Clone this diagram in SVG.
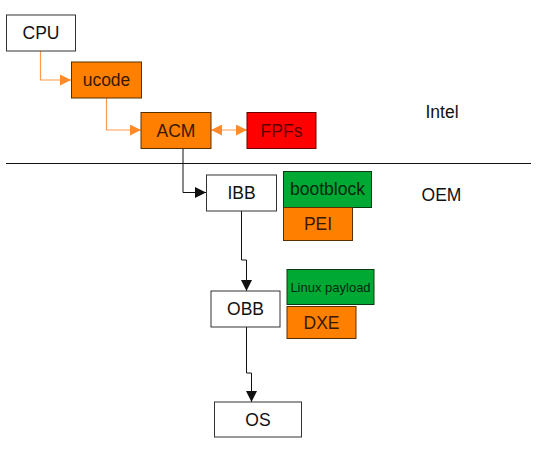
<svg xmlns="http://www.w3.org/2000/svg" width="536" height="451" viewBox="0 0 536 451">
<defs>
<style>
text{font-family:"Liberation Sans",Arial,sans-serif;font-size:17.5px;text-anchor:middle}
.w{fill:#fff;stroke:#333;stroke-width:1}
.o{fill:#ff8000;stroke:#5a3000;stroke-width:1}
.g{fill:#00a933;stroke:#0a3a14;stroke-width:1}
.r{fill:#ff0000;stroke:#6a0000;stroke-width:1}
.tk{fill:#111}
.to{fill:#3a1800}
.tg{fill:#002810}
.tr{fill:#5a0000}
.ol{fill:none;stroke:#ff9a4d;stroke-width:1.2}
.bl{fill:none;stroke:#111;stroke-width:1}
</style>
<marker id="ao" viewBox="0 0 10 10" refX="10" refY="5" markerWidth="11" markerHeight="11" markerUnits="userSpaceOnUse" orient="auto-start-reverse"><path d="M0,0 L10,5 L0,10 Z" fill="#ff8a2a"/></marker>
<marker id="ab" viewBox="0 0 10 10" refX="10" refY="5" markerWidth="11" markerHeight="11" markerUnits="userSpaceOnUse" orient="auto"><path d="M0,0 L10,5 L0,10 Z" fill="#111"/></marker>
</defs>
<rect width="536" height="451" fill="#fff"/>
<g id="connectors">
<path class="ol" d="M40.5,51 V80 H71" marker-end="url(#ao)"/>
<path class="ol" d="M106.5,98 V130 H141" marker-end="url(#ao)"/>
<path class="ol" d="M211,130 H247" marker-start="url(#ao)" marker-end="url(#ao)"/>
<path class="bl" d="M183,148 V192.5 H206" marker-end="url(#ab)"/>
<path class="bl" d="M241.5,211 V260 H246.5 V291" marker-end="url(#ab)"/>
<path class="bl" d="M246.5,327 V373 H251.5 V402" marker-end="url(#ab)"/>
</g>
<line id="divider" x1="6" y1="163.5" x2="531" y2="163.5" stroke="#111" stroke-width="1"/>
<g id="cpu"><rect class="w" x="6.5" y="15" width="69" height="36"/><text class="tk" x="41" y="39">CPU</text></g>
<g id="ucode"><rect class="o" x="71.5" y="62" width="70" height="36"/><text class="to" x="106.5" y="86">ucode</text></g>
<g id="acm"><rect class="o" x="141" y="112.5" width="70" height="36"/><text class="to" x="176" y="136.5">ACM</text></g>
<g id="fpfs"><rect class="r" x="247" y="112.5" width="69" height="36"/><text class="tr" x="281.5" y="136.5">FPFs</text></g>
<g id="ibb"><rect class="w" x="206.5" y="175" width="70" height="36"/><text class="tk" x="241.5" y="199">IBB</text></g>
<g id="bootblock"><rect class="g" x="283.5" y="171.5" width="88" height="36"/><text class="tg" x="327.5" y="195">bootblock</text></g>
<g id="pei"><rect class="o" x="283.5" y="207.5" width="69" height="33"/><text class="to" x="318" y="230">PEI</text></g>
<g id="obb"><rect class="w" x="211" y="291" width="69" height="36"/><text class="tk" x="245.5" y="315">OBB</text></g>
<g id="linux"><rect class="g" x="287" y="269.5" width="87" height="35"/><text class="tg" x="330.5" y="291.5" style="font-size:13px">Linux payload</text></g>
<g id="dxe"><rect class="o" x="287" y="306.5" width="69" height="32"/><text class="to" x="321.5" y="329">DXE</text></g>
<g id="os"><rect class="w" x="214.5" y="402" width="87" height="35"/><text class="tk" x="258" y="425.5">OS</text></g>
<g id="intel"><text class="tk" x="442" y="118">Intel</text></g>
<g id="oem"><text class="tk" x="441.5" y="201">OEM</text></g>
</svg>
